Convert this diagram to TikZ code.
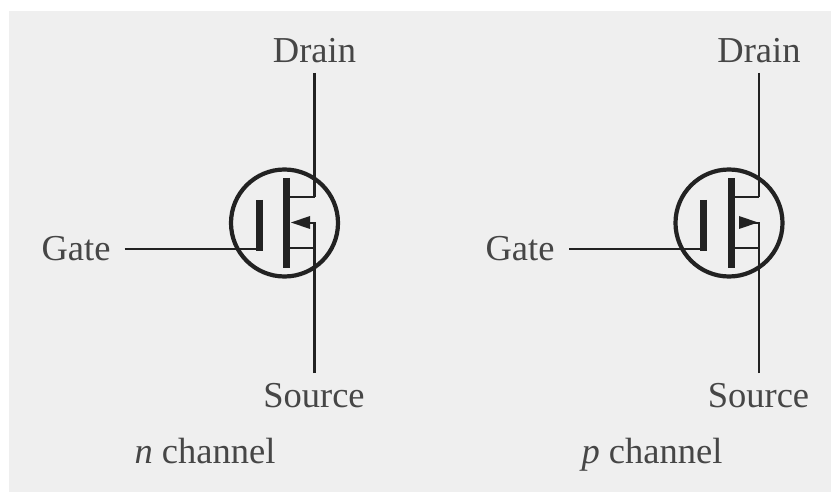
\documentclass[tikz,border=0pt]{standalone}
\usepackage{fontspec}
\setmainfont{Liberation Serif}
\definecolor{panel}{HTML}{EFEFEF}
\definecolor{ink}{HTML}{222222}
\definecolor{txt}{HTML}{464646}
\tikzset{
  x=1pt,y=-1pt,
  lbl/.style={inner sep=0pt,anchor=base,text=txt,font=\fontsize{36.5}{40}\selectfont},
  lead/.style={draw=ink,line width=2.6pt},
  bar/.style={draw=ink,line width=7pt},
  ring/.style={draw=ink,line width=4.2pt},
  head/.style={fill=ink,draw=none},
  pics/fet/.style={code={
    \draw[ring] (0,0) circle[radius=53.5];
    \draw[bar] (-25.5,-23) -- (-25.5,28);
    \draw[bar] (2,-45) -- (2,45);
    \draw[lead] (2,-26) -- (30,-26);
    \draw[lead] (2,25) -- (30,25);
    \draw[lead] (30,-150) -- (30,-26);
    \draw[lead] (30,150) -- (30,0) -- (24,0);
    \draw[lead] (-160,26) -- (-24,26);
  }}
}
\begin{document}
\begin{tikzpicture}
\useasboundingbox (0,0) rectangle (831,492);
\fill[white] (0,0) rectangle (831,492);
\fill[panel] (9,11) rectangle (831,492);
\pic at (284.5,223) {fet};
\pic at (729,223) {fet};
\fill[head] (291,222.5) -- (310,216) -- (310,229) -- cycle;
\fill[head] (758,222.5) -- (739,216) -- (739,229) -- cycle;
\node[lbl] (d1) at (314.5,62.5) {Drain};
\node[lbl] (d2) at (759,62.5) {Drain};
\node[lbl] (g1) at (76,260.5) {Gate};
\node[lbl] (g2) at (520,260.5) {Gate};
\node[lbl] (s1) at (314,407.5) {Source};
\node[lbl] (s2) at (758.5,407.5) {Source};
\node[lbl] (c1) at (205,463.5) {\textit{n} channel};
\node[lbl] (c2) at (652,463.5) {\textit{p} channel};
\end{tikzpicture}
\end{document}
